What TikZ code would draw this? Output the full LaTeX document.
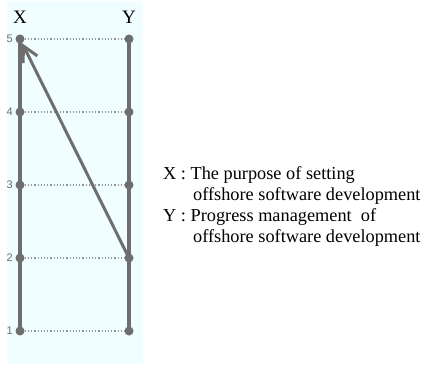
\documentclass[tikz,border=0pt]{standalone}
\usepackage{fontspec}
\setmainfont{Liberation Serif}
\newfontfamily\numfont{Liberation Sans}
\usetikzlibrary{positioning, calc, arrows.meta}
\definecolor{panelcyan}{RGB}{240,254,255}
\definecolor{linegray}{RGB}{110,110,110}
\definecolor{dotgray}{RGB}{150,150,150}
\tikzset{
  pt/.style={circle, fill=linegray, inner sep=0pt, minimum size=9pt},
  axisline/.style={linegray, line width=4pt},
  levelline/.style={dotgray, line width=1.2pt, dotted},
  numlabel/.style={font=\numfont\fontsize{11}{12}\selectfont, text=linegray},
  headlabel/.style={font=\fontsize{19}{20}\selectfont}
}

\begin{document}
\begin{tikzpicture}[x=1pt, y=-1pt]
  \useasboundingbox (0,0) rectangle (427,366);
  \fill[panelcyan] (7,1) rectangle (143,364);
  % points of both columns
  \foreach \i in {1,...,5} {
    \node[pt] (x\i) at (20,{39+73*(5-\i)}) {};
    \node[pt] (y\i) at (129,{39+73*(5-\i)}) {};
    \node[numlabel, left=-1pt of x\i] (n\i) {\i};
  }
  \foreach \i in {1,...,5}
    \draw[levelline] (x\i) -- (y\i);
  \draw[axisline] (x1.center) -- (x5.center);
  \draw[axisline] (y1.center) -- (y5.center);
  \draw[axisline, line width=3pt, -{Straight Barb[length=15pt, width=16pt, line width=3pt]}] (y2.center) -- (x5);
  \node[headlabel] (hx) at (20,17) {X};
  \node[headlabel] (hy) at (129,17) {Y};
  % legend
  \node[anchor=north west, align=left, inner sep=0pt, font=\fontsize{18.3}{21.3}\selectfont] (legend) at (163,166)
    {X : The purpose of setting\\
     \hspace*{30pt}offshore software development\\
     Y : Progress management\ \ of\\
     \hspace*{30pt}offshore software development};
\end{tikzpicture}
\end{document}
